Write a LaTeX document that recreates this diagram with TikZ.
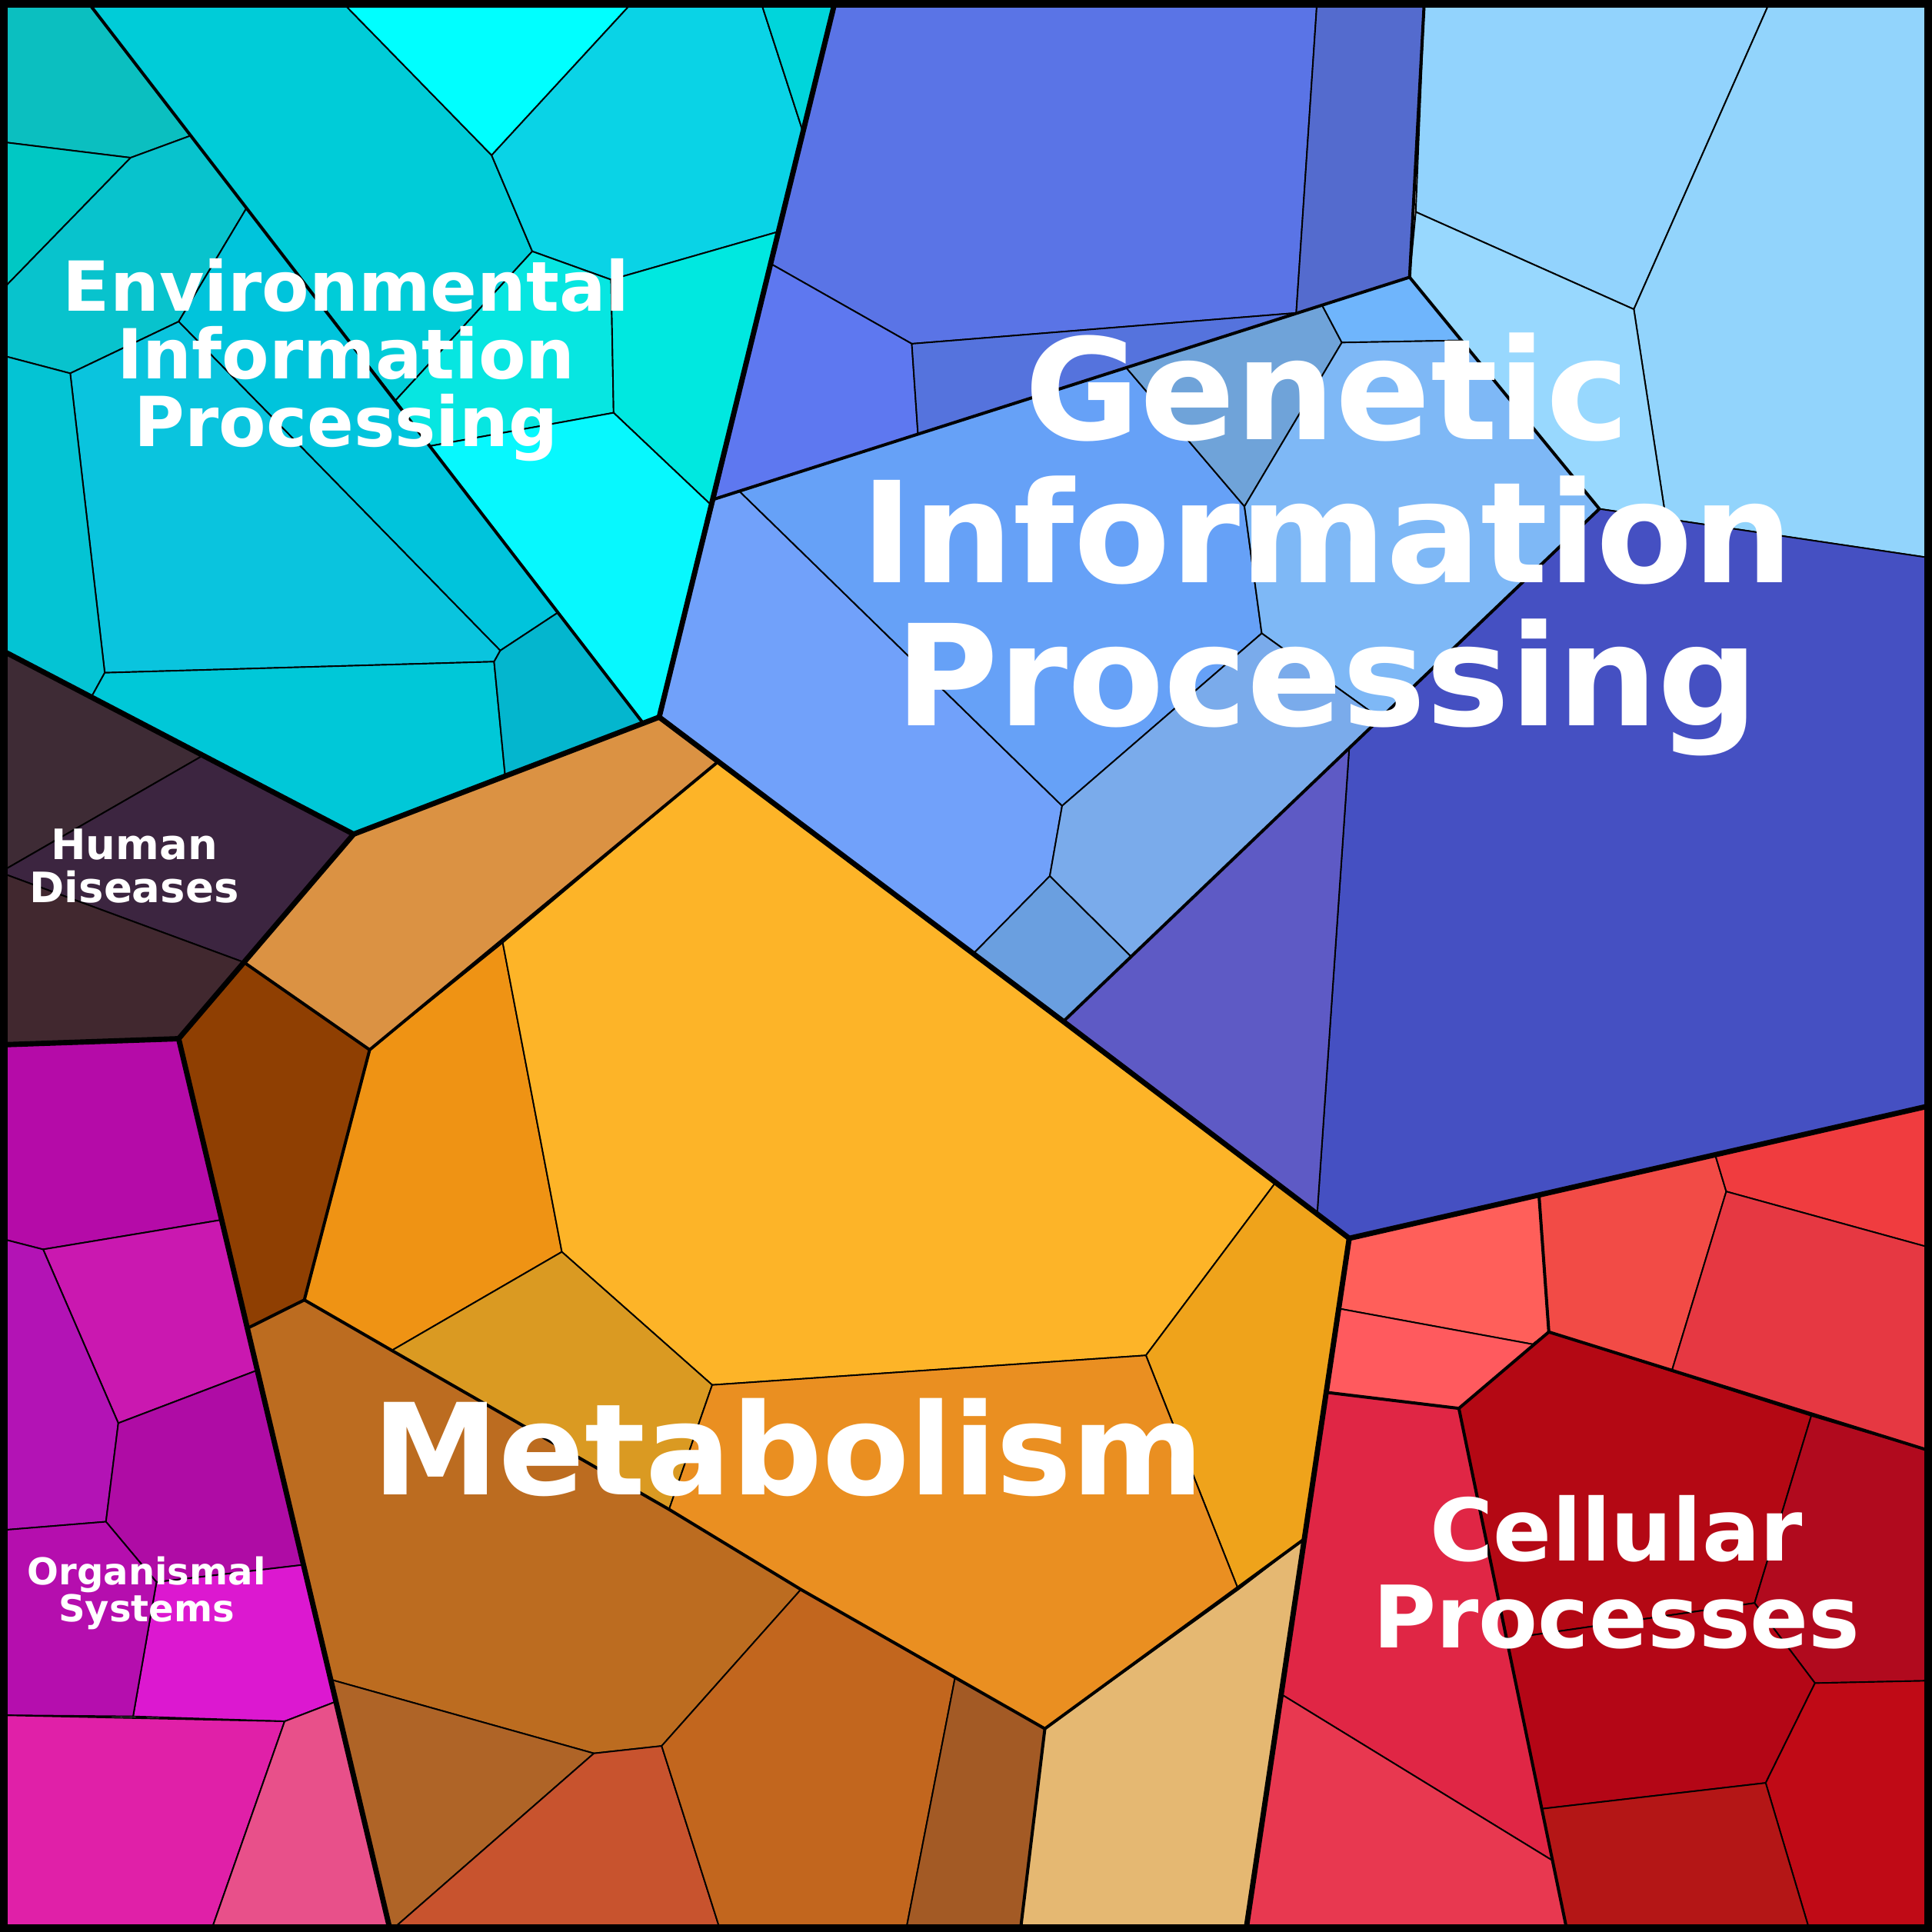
\documentclass[tikz,border=0pt]{standalone}
\usepackage{fontspec}
\setmainfont{DejaVu Sans}
\definecolor{cE1}{HTML}{0BBFC0}\definecolor{cE2}{HTML}{00C8C4}\definecolor{cE3}{HTML}{08C3CD}
\definecolor{cE4}{HTML}{00C4DC}\definecolor{cE5}{HTML}{0AC4DE}\definecolor{cE6}{HTML}{04C4D4}
\definecolor{cE7}{HTML}{00C8D8}\definecolor{cE8}{HTML}{04B6CE}\definecolor{cE9}{HTML}{00CCD8}
\definecolor{cE10}{HTML}{00FFFF}\definecolor{cE11}{HTML}{0AD3E6}\definecolor{cE12}{HTML}{00D5DB}
\definecolor{cE13}{HTML}{07E6E1}\definecolor{cE14}{HTML}{00E8E0}\definecolor{cE15}{HTML}{07F8FE}
\definecolor{cH1}{HTML}{3E2B35}\definecolor{cH2}{HTML}{3C2540}\definecolor{cH3}{HTML}{41282F}
\definecolor{cO1}{HTML}{B50BA8}\definecolor{cO2}{HTML}{CA18B0}\definecolor{cO3}{HTML}{B313B5}
\definecolor{cO4}{HTML}{AF0CA5}\definecolor{cO5}{HTML}{DC18D0}\definecolor{cO6}{HTML}{B50EAE}
\definecolor{cO7}{HTML}{E020A8}\definecolor{cO8}{HTML}{E8508A}
\definecolor{cM1}{HTML}{DB9243}\definecolor{cM2}{HTML}{8F3F02}\definecolor{cM3}{HTML}{EF9314}
\definecolor{cM4}{HTML}{FDB428}\definecolor{cM5}{HTML}{DA9A22}\definecolor{cM6}{HTML}{EFA31B}
\definecolor{cM7}{HTML}{EA8F21}\definecolor{cM8}{HTML}{BC6C20}\definecolor{cM9}{HTML}{AF6427}
\definecolor{cM10}{HTML}{C8532E}\definecolor{cM11}{HTML}{C2661E}\definecolor{cM12}{HTML}{A35A25}
\definecolor{cM13}{HTML}{E5B872}
\definecolor{cG1}{HTML}{5A74E6}\definecolor{cG2}{HTML}{5E78F0}\definecolor{cG3}{HTML}{5573DD}
\definecolor{cG4}{HTML}{546BCE}\definecolor{cG5}{HTML}{92D3FD}\definecolor{cG6}{HTML}{92D4FC}
\definecolor{cG7}{HTML}{98D8FE}\definecolor{cG8}{HTML}{71A1FA}\definecolor{cG9}{HTML}{66A1F7}
\definecolor{cG10}{HTML}{6FA3D9}\definecolor{cG11}{HTML}{6FB5FC}\definecolor{cG12}{HTML}{7EB8F6}
\definecolor{cG13}{HTML}{7AABEB}\definecolor{cG14}{HTML}{6A9FE0}\definecolor{cG15}{HTML}{4550C2}
\definecolor{cG16}{HTML}{5E5AC5}
\definecolor{cC1}{HTML}{FF5F5A}\definecolor{cC2}{HTML}{FF5A5E}\definecolor{cC3}{HTML}{F24B46}
\definecolor{cC4}{HTML}{F03C3F}\definecolor{cC5}{HTML}{E63842}\definecolor{cC6}{HTML}{B40814}
\definecolor{cC7}{HTML}{B10A1E}\definecolor{cC8}{HTML}{B40616}\definecolor{cC9}{HTML}{C00A16}
\definecolor{cC10}{HTML}{B41616}\definecolor{cC11}{HTML}{E02645}\definecolor{cC12}{HTML}{E83850}
\begin{document}
\begin{tikzpicture}[x=1pt,y=-1pt,
  cell/.style={draw=black,line width=1.2pt,line join=round},
  mid/.style={draw=black,line width=2.5pt,line join=round},
  major/.style={draw=black,line width=4.3pt,line join=round},
  lab/.style={text=white,font=\bfseries,align=center,inner sep=0pt}]
\useasboundingbox (0,0) rectangle (1568,1568);
\def\C#1#2{\filldraw[cell,fill=#1] #2 -- cycle;}
% ---------- Environmental
\C{cE1}{(0,0)--(70,0)--(155,110)--(106,128)--(0,115)}
\C{cE2}{(0,115)--(106,128)--(0,237)}
\C{cE3}{(106,128)--(155,110)--(200,169)--(145,261)--(57,303)--(0,288)--(0,237)}
\C{cE4}{(200,169)--(453,497)--(406,528)--(145,261)}
\C{cE5}{(57,303)--(145,261)--(406,528)--(401,537)--(85,546)}
\C{cE6}{(0,288)--(57,303)--(85,546)--(74,566)--(0,527)}
\C{cE7}{(85,546)--(401,537)--(410,630)--(287,677)--(74,566)}
\C{cE8}{(401,537)--(406,528)--(453,497)--(522,587)--(410,630)}
\C{cE9}{(70,0)--(276,0)--(399,126)--(432,204)--(321,325)}
\C{cE10}{(276,0)--(515,0)--(399,126)}
\C{cE11}{(515,0)--(617,0)--(651.7,107)--(631.8,188)--(496,227)--(432,204)--(399,126)}
\C{cE12}{(617,0)--(678,0)--(651.7,107)}
\C{cE13}{(432,204)--(496,227)--(498,335)--(349,362)--(321,325)}
\C{cE14}{(496,227)--(631.8,188)--(577.3,410)--(498,335)}
\C{cE15}{(349,362)--(498,335)--(577.3,410)--(535,582)--(522,587)}
% ---------- Human diseases
\C{cH1}{(0,527)--(165,613)--(0,708)}
\C{cH2}{(165,613)--(287,677)--(198,781)--(0,708)}
\C{cH3}{(0,708)--(198,781)--(145,843)--(0,848)}
% ---------- Organismal
\C{cO1}{(0,848)--(145,843)--(180,990)--(35,1014)--(0,1005)}
\C{cO2}{(35,1014)--(180,990)--(209,1112)--(96,1155)}
\C{cO3}{(0,1005)--(35,1014)--(96,1155)--(86,1235)--(0,1242)}
\C{cO4}{(96,1155)--(209,1112)--(246,1270)--(127,1284)--(86,1235)}
\C{cO5}{(127,1284)--(246,1270)--(272.6,1381)--(231,1397)--(108,1393)}
\C{cO6}{(0,1242)--(86,1235)--(127,1284)--(108,1393)--(0,1392)}
\C{cO7}{(0,1392)--(231,1397)--(171,1568)--(0,1568)}
\C{cO8}{(231,1397)--(272.6,1381)--(317,1568)--(171,1568)}
% ---------- Metabolism
\C{cM1}{(287,677)--(535,582)--(583,618)--(300,852)--(198,781)}
\C{cM2}{(198,781)--(300,852)--(247,1055)--(200.8,1078)--(145,843)}
\C{cM3}{(300,852)--(408,765)--(456,1016)--(318,1096)--(247,1055)}
\C{cM4}{(408,765)--(583,618)--(863,829)--(1035,960)--(930,1100)--(578,1124)--(456,1016)}
\C{cM5}{(456,1016)--(578,1124)--(543,1225)--(318,1096)}
\C{cM6}{(1035,960)--(1095,1005)--(1058.6,1249)--(1005,1290)--(930,1100)}
\C{cM7}{(578,1124)--(930,1100)--(1005,1290)--(848,1403)--(775,1362)--(650,1290)--(543,1225)}
\C{cM8}{(200.8,1078)--(247,1055)--(318,1096)--(543,1225)--(650,1290)--(537,1417)--(482,1423)--(268,1363)}
\C{cM9}{(268,1363)--(482,1423)--(316,1568)}
\C{cM10}{(482,1423)--(537,1417)--(585,1568)--(316,1568)}
\C{cM11}{(537,1417)--(650,1290)--(775,1362)--(735,1568)--(585,1568)}
\C{cM12}{(775,1362)--(848,1403)--(828,1568)--(735,1568)}
\C{cM13}{(848,1403)--(1005,1290)--(1058.6,1249)--(1011,1568)--(828,1568)}
% ---------- Genetic
\C{cG1}{(678,0)--(1069,0)--(1052,254)--(740,279)--(625.4,214)--(651.7,107)}
\C{cG2}{(625.4,214)--(740,279)--(745,352.3)--(580,405)}
\C{cG3}{(740,279)--(1052,254)--(1073,247.7)--(745,352.3)}
\C{cG4}{(1069,0)--(1156,0)--(1144,225)--(1073,247.7)--(1052,254)}
\C{cG5}{(1156,0)--(1437,0)--(1326,251)--(1149,172)}
\C{cG6}{(1437,0)--(1568,0)--(1568,453)--(1352,421)--(1326,251)}
\C{cG7}{(1149,172)--(1326,251)--(1352,421)--(1298,413)--(1144,225)}
\C{cG8}{(580,405)--(600,398.6)--(862,654)--(852,711)--(790,774)--(535,582)}
\C{cG9}{(600,398.6)--(914,298.4)--(1010,411)--(1024,514)--(862,654)}
\C{cG10}{(914,298.4)--(1073,247.7)--(1089,278)--(1010,411)}
\C{cG11}{(1089,278)--(1186,276.3)--(1144,225)--(1073,247.7)}
\C{cG12}{(1010,411)--(1089,278)--(1186,276.3)--(1298,413)--(1120,583)--(1024,514)}
\C{cG13}{(1024,514)--(1120,583)--(918,776.4)--(852,711)--(862,654)}
\C{cG14}{(852,711)--(918,776.4)--(863,829)--(790,774)}
\C{cG15}{(1298,413)--(1568,453)--(1568,897)--(1095,1005)--(1069,985)--(1095,607)}
\C{cG16}{(1095,607)--(1069,985)--(863,829)}
% ---------- Cellular
\C{cC1}{(1095,1005)--(1249,969.8)--(1257,1081)--(1244,1091)--(1086.5,1062)}
\C{cC2}{(1086.5,1062)--(1244,1091)--(1257,1081)--(1184,1143)--(1076.3,1130)}
\C{cC3}{(1249,969.8)--(1392,937.2)--(1401,967)--(1357,1112)--(1257,1081)}
\C{cC4}{(1392,937.2)--(1568,897)--(1568,1013)--(1401,967)}
\C{cC5}{(1401,967)--(1568,1013)--(1568,1178)--(1470,1149)--(1357,1112)}
\C{cC6}{(1257,1081)--(1470,1149)--(1424,1301)--(1222.7,1330)--(1184,1143)}
\C{cC7}{(1470,1149)--(1568,1178)--(1568,1364)--(1473,1366)--(1424,1301)}
\C{cC8}{(1222.7,1330)--(1424,1301)--(1473,1366)--(1433,1447)--(1251.3,1468)}
\C{cC9}{(1473,1366)--(1568,1364)--(1568,1568)--(1469,1568)--(1433,1447)}
\C{cC10}{(1251.3,1468)--(1433,1447)--(1469,1568)--(1272,1568)}
\C{cC11}{(1076.3,1130)--(1184,1143)--(1260,1510)--(1039.8,1375)--(1058.6,1249)}
\C{cC12}{(1039.8,1375)--(1260,1510)--(1272,1568)--(1011,1568)}
% ---------- second level boundaries
\draw[mid] (70,0)--(522,587);
\draw[mid] (580,405)--(1144,225)--(1156,0);
\draw[mid] (1144,225)--(1298,413)--(863,829);
\draw[mid] (1249,969.8)--(1257,1081)--(1568,1178);
\draw[mid] (1257,1081)--(1184,1143)--(1076.3,1130);
\draw[mid] (1184,1143)--(1272,1568);
\draw[mid] (583,618)--(300,852)--(198,781);
\draw[mid] (300,852)--(247,1055)--(200.8,1078);
\draw[mid] (247,1055)--(318,1096)--(543,1225)--(650,1290)--(848,1403)--(1058.6,1249);
\draw[mid] (848,1403)--(828,1568);
% ---------- top level boundaries
\draw[major] (678,0)--(535,582);
\draw[major] (0,527)--(287,677)--(535,582);
\draw[major] (287,677)--(198,781)--(145,843)--(0,848);
\draw[major] (145,843)--(317,1568);
\draw[major] (535,582)--(863,829)--(1095,1005)--(1568,897);
\draw[major] (1095,1005)--(1011,1568);
\draw[line width=6.5pt] (3,3) rectangle (1565,1565);
% ---------- labels
\node[lab,font=\bfseries\fontsize{56}{55}\selectfont] (tE) at (281,292) {Environmental\\Information\\Processing};
\node[lab,font=\bfseries\fontsize{114}{116}\selectfont] (tG) at (1077,442) {Genetic\\Information\\Processing};
\node[lab,font=\bfseries\fontsize{34}{35}\selectfont] (tH) at (109,703) {Human\\Diseases};
\node[lab,font=\bfseries\fontsize{30}{30}\selectfont] (tO) at (119,1293) {Organismal\\Systems};
\node[lab,font=\bfseries\fontsize{103}{105}\selectfont] (tM) at (640,1175) {Metabolism};
\node[lab,font=\bfseries\fontsize{70}{70}\selectfont] (tC) at (1312,1276) {Cellular\\Processes};
\end{tikzpicture}
\end{document}
